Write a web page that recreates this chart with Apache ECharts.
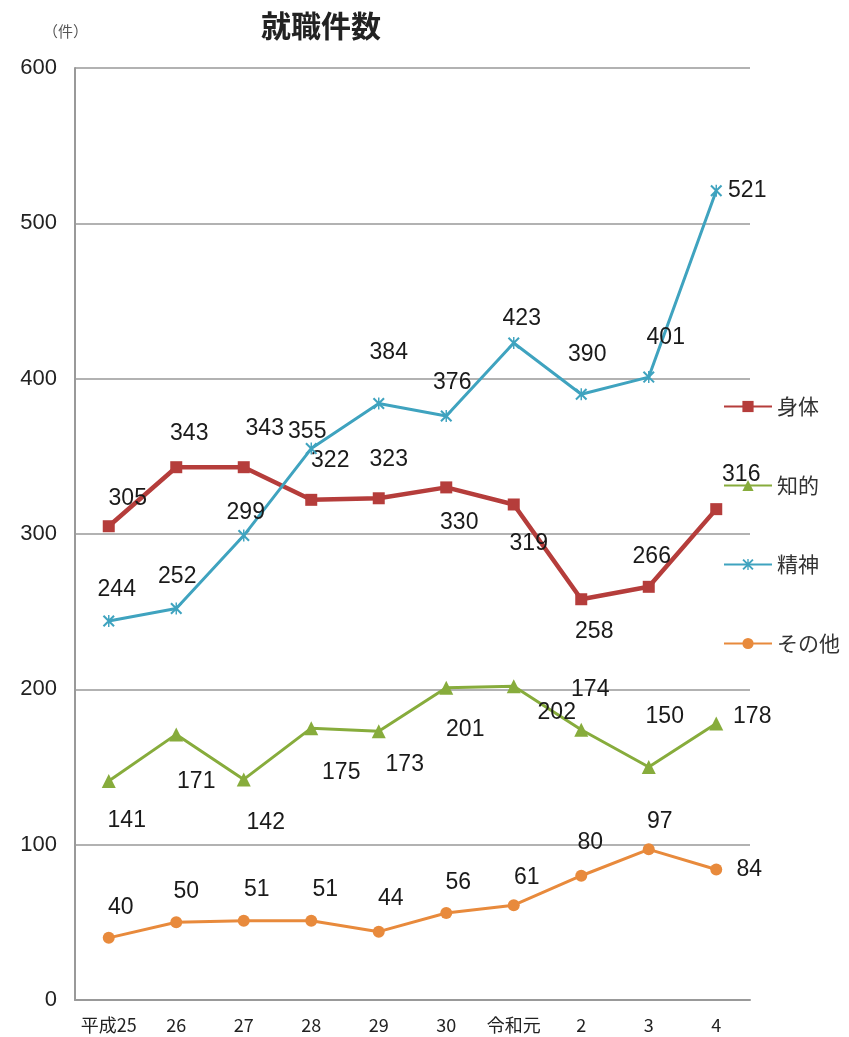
<!DOCTYPE html>
<html><head><meta charset="utf-8">
<script src="https://cdn.jsdelivr.net/npm/echarts@6/dist/echarts.min.js"></script>
<style>html,body{margin:0;padding:0;background:#fff}#c{width:849px;height:1037px}</style>
</head><body><div id="c"></div>
<script>
const categories = ['平成25','26','27','28','29','30','令和元','2','3','4'];
const seriesNames = ['身体','知的','精神','その他'];
const shintai = [305,343,343,322,323,330,319,258,266,316];
const chiteki = [141,171,142,175,173,201,202,174,150,178];
const seishin = [244,252,299,355,384,376,423,390,401,521];
const sonota  = [40,50,51,51,44,56,61,80,97,84];
const yTicks = [0,100,200,300,400,500,600];

// label placement (pixel offsets from each point)
const offShintai = [[19,-28],[13,-34],[21,-39],[19,-39],[10,-39],[13,35],[15,39],[13,32],[3,-30],[25,-34]];
const offChiteki = [[18,40],[20,47],[22,43],[30,44],[26,33],[19,42],[43,26],[9,-40],[16,-50],[36,-7]];
const offSeishin = [[8,-31],[1,-32],[2,-23],[-4,-17],[10,-51],[6,-33],[8,-24],[6,-40],[17,-39],[31,0]];
const offSonota  = [[12,-30],[10,-31],[13,-31],[14,-31],[12,-33],[12,-30],[13,-28],[9,-33],[11,-28],[33,0]];

function build(vals, offs){
  return vals.map((v,i)=>({value:v,label:{offset:offs[i]}}));
}
const lbl = {show:true,position:'inside',align:'center',verticalAlign:'middle',fontSize:23,color:'#1a1a1a',fontFamily:'Liberation Sans, Arial, sans-serif'};
const xPath = 'path://M0,1.2L1.2,0L10,8.8L8.8,10Z M8.8,0L10,1.2L1.2,10L0,8.8Z M4.4,0L5.6,0L5.6,10L4.4,10Z';

const chart = echarts.init(document.getElementById('c'));
chart.setOption({
  animation:false,
  backgroundColor:'#fff',
  title:[{text:'就職件数',left:256,top:6,textStyle:{fontSize:30,fontWeight:'bold',color:'#222',fontFamily:'Noto Sans CJK JP'}},
         {text:'（件）',left:38,top:19,textStyle:{fontSize:15,fontWeight:'normal',color:'#555',fontFamily:'Noto Sans CJK JP'}}],
  grid:{left:75,right:99,top:68,bottom:37},
  legend:{orient:'vertical',left:718,top:391,itemGap:58,itemWidth:48,itemHeight:14,
    data:seriesNames,textStyle:{fontSize:21,color:'#333',fontFamily:'Noto Sans CJK JP'}},
  xAxis:{type:'category',data:categories,boundaryGap:true,
    axisLine:{lineStyle:{color:'#999',width:2}},axisTick:{show:false},
    axisLabel:{fontSize:18,color:'#222',margin:16,interval:0,fontFamily:'Liberation Sans Narrow, Noto Sans CJK JP'}},
  yAxis:{type:'value',min:0,max:600,interval:100,
    axisLine:{show:true,lineStyle:{color:'#999',width:2}},axisTick:{show:false},
    splitLine:{lineStyle:{color:'#999',width:1.5}},
    axisLabel:{fontSize:22,color:'#222',margin:18,fontFamily:'Liberation Sans, Arial, sans-serif',
      formatter:v=>yTicks.includes(v)?String(v):''}},
  series:[
    {name:'身体',type:'line',data:build(shintai,offShintai),color:'#b53d3b',symbol:'rect',symbolSize:12,
      lineStyle:{width:4.5,color:'#b53d3b'},itemStyle:{color:'#b53d3b'},label:lbl,z:4},
    {name:'知的',type:'line',data:build(chiteki,offChiteki),color:'#87ac3c',symbol:'triangle',symbolSize:14,
      lineStyle:{width:3,color:'#87ac3c'},itemStyle:{color:'#87ac3c'},label:lbl,z:3},
    {name:'精神',type:'line',data:build(seishin,offSeishin),color:'#3fa3bf',symbol:xPath,symbolSize:12,
      lineStyle:{width:3,color:'#3fa3bf'},itemStyle:{color:'#3fa3bf'},label:lbl,z:5},
    {name:'その他',type:'line',data:build(sonota,offSonota),color:'#e88a3c',symbol:'circle',symbolSize:12,
      lineStyle:{width:3,color:'#e88a3c'},itemStyle:{color:'#e88a3c'},label:lbl,z:3}
  ]
});
</script></body></html>
